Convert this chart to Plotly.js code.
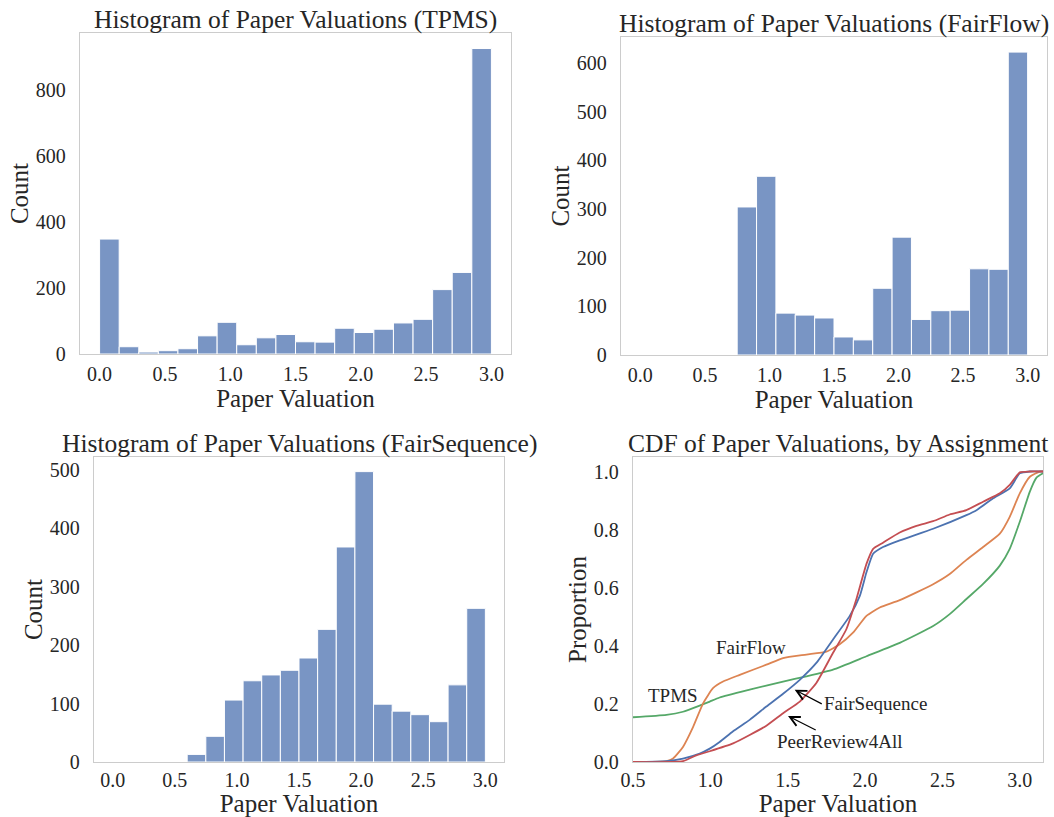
<!DOCTYPE html>
<html>
<head>
<meta charset="utf-8">
<script src="https://cdn.plot.ly/plotly-3.0.1.min.js"></script>
<style>html,body{margin:0;padding:0;background:#fff;}#chart{width:1054px;height:817px;}</style>
</head>
<body>
<div id="chart"></div>
<script>
// ---- Histogram data (bin centres, bin width 0.15) ----
const tpmsBins = [0.075,0.225,0.375,0.525,0.675,0.825,0.975,1.125,1.275,1.425,1.575,1.725,1.875,2.025,2.175,2.325,2.475,2.625,2.775,2.925];
const tpmsCounts = [348,22,6,10,16,55,96,28,49,59,37,36,78,65,75,94,105,195,247,925];

const fairFlowBins = [0.825,0.975,1.125,1.275,1.425,1.575,1.725,1.875,2.025,2.175,2.325,2.475,2.625,2.775,2.925];
const fairFlowCounts = [304,367,86,82,76,37,31,137,242,73,91,92,177,176,622];

const fairSeqBins = [0.675,0.825,0.975,1.125,1.275,1.425,1.575,1.725,1.875,2.025,2.175,2.325,2.475,2.625,2.775,2.925];
const fairSeqCounts = [13,44,106,139,149,157,178,227,368,497,99,87,81,69,132,263];

const binWidth = 0.15;

// ---- CDF data ----
const cdfTpmsX = [0.5,0.716,0.823,0.931,0.996,1.06,1.254,1.47,1.621,1.793,2.009,2.224,2.44,2.547,2.655,2.763,2.871,2.935,3.0,3.065,3.108,3.15];
const cdfTpmsY = [0.154,0.162,0.173,0.194,0.208,0.222,0.249,0.277,0.295,0.318,0.364,0.41,0.468,0.509,0.561,0.613,0.676,0.734,0.827,0.931,0.979,0.994];

const cdfFairFlowX = [0.5,0.716,0.759,0.823,0.888,0.953,1.017,1.082,1.19,1.362,1.47,1.621,1.75,1.836,1.922,2.009,2.095,2.224,2.44,2.547,2.655,2.763,2.871,2.935,3.0,3.065,3.129,3.15];
const cdfFairFlowY = [0,0.003,0.012,0.052,0.12,0.202,0.254,0.277,0.3,0.335,0.358,0.37,0.38,0.405,0.445,0.503,0.532,0.557,0.612,0.647,0.696,0.74,0.786,0.844,0.925,0.982,1.0,1.0];

const cdfFairSeqX = [0.5,0.716,0.823,0.931,0.996,1.06,1.147,1.254,1.362,1.47,1.578,1.685,1.793,1.901,1.966,2.009,2.052,2.116,2.224,2.44,2.655,2.72,2.828,2.935,3.0,3.065,3.15];
const cdfFairSeqY = [0,0.003,0.012,0.029,0.046,0.069,0.106,0.145,0.191,0.235,0.283,0.341,0.422,0.503,0.572,0.653,0.717,0.74,0.763,0.803,0.85,0.867,0.908,0.942,0.994,1.0,1.0];

const cdfPR4AX = [0.5,0.823,0.909,0.996,1.147,1.254,1.362,1.47,1.578,1.685,1.793,1.879,1.944,2.009,2.052,2.116,2.224,2.332,2.44,2.547,2.655,2.763,2.871,2.935,3.0,3.065,3.15];
const cdfPR4AY = [0,0.003,0.023,0.037,0.064,0.093,0.125,0.168,0.208,0.272,0.376,0.457,0.561,0.682,0.734,0.755,0.79,0.813,0.829,0.852,0.867,0.896,0.925,0.954,0.997,1.0,1.0];

const histTitles = ['Histogram of Paper Valuations (TPMS)','Histogram of Paper Valuations (FairFlow)','Histogram of Paper Valuations (FairSequence)'];
const cdfTitle = 'CDF of Paper Valuations, by Assignment';

const barColor = 'rgba(76,114,176,0.75)';
const txt = '#262626';
const frame = '#cccccc';
const FONT = 'Liberation Serif, Times New Roman, serif';

function bar(x, y, xa, ya) {
  return {type:'bar', x:x, y:y, width:binWidth, xaxis:xa, yaxis:ya,
    marker:{color:barColor, line:{color:'#ffffff', width:1}}, hoverinfo:'x+y'};
}
function line(x, y, c) {
  return {type:'scatter', mode:'lines', x:x, y:y, xaxis:'x4', yaxis:'y4',
    line:{color:c, width:1.8, shape:'spline', smoothing:0.5}};
}

const data = [
  bar(tpmsBins, tpmsCounts, 'x', 'y'),
  bar(fairFlowBins, fairFlowCounts, 'x2', 'y2'),
  bar(fairSeqBins, fairSeqCounts, 'x3', 'y3'),
  line(cdfTpmsX, cdfTpmsY, '#55A868'),
  line(cdfFairFlowX, cdfFairFlowY, '#DD8452'),
  line(cdfFairSeqX, cdfFairSeqY, '#4C72B0'),
  line(cdfPR4AX, cdfPR4AY, '#C44E52')
];

const W = 1054, H = 817;
function xd(a,b){return [a/W, b/W];}
function yd(top,bottom){return [1-bottom/H, 1-top/H];}

function ax(extra) {
  return Object.assign({
    showgrid:false, zeroline:false, showline:true, mirror:true,
    linecolor:frame, linewidth:1.25,
    ticks:'outside', tickcolor:'rgba(0,0,0,0)', ticklen:9,
    tickfont:{family:FONT, size:20, color:txt},
    fixedrange:true
  }, extra);
}
function xtitle(t){return {text:t, font:{family:FONT, size:25, color:txt}, standoff:0};}
function ytitle(t){return {text:t, font:{family:FONT, size:25, color:txt}, standoff:0};}

const histTicks = [0,0.5,1,1.5,2,2.5,3];
const histTickText = ['0.0','0.5','1.0','1.5','2.0','2.5','3.0'];

const P1 = {x:xd(80,511), y:yd(33,354)};
const P2 = {x:xd(621,1047), y:yd(37,355)};
const P3 = {x:xd(94,504), y:yd(457,762)};
const P4 = {x:xd(633,1043), y:yd(457,762)};

const layout = {
  width:W, height:H, margin:{l:0,r:0,t:0,b:0},
  paper_bgcolor:'#ffffff', plot_bgcolor:'#ffffff', showlegend:false,
  font:{family:FONT, color:txt},
  xaxis: ax({domain:P1.x, anchor:'y', range:[-0.15,3.15], tickvals:histTicks, ticktext:histTickText, ticklen:2, title:xtitle('Paper Valuation')}),
  yaxis: ax({domain:P1.y, anchor:'x', range:[0,972], tickvals:[0,200,400,600,800], title:ytitle('Count')}),
  xaxis2: ax({domain:P2.x, anchor:'y2', range:[-0.15,3.15], tickvals:histTicks, ticktext:histTickText, ticklen:2, title:xtitle('Paper Valuation')}),
  yaxis2: ax({domain:P2.y, anchor:'x2', range:[0,653], tickvals:[0,100,200,300,400,500,600], title:ytitle('Count')}),
  xaxis3: ax({domain:P3.x, anchor:'y3', range:[-0.15,3.15], tickvals:histTicks, ticktext:histTickText, ticklen:0, title:xtitle('Paper Valuation')}),
  yaxis3: ax({domain:P3.y, anchor:'x3', range:[0,522], tickvals:[0,100,200,300,400,500], title:ytitle('Count')}),
  xaxis4: ax({domain:P4.x, anchor:'y4', range:[0.5,3.15], tickvals:[0.5,1,1.5,2,2.5,3], ticktext:['0.5','1.0','1.5','2.0','2.5','3.0'], ticklen:0, title:xtitle('Paper Valuation')}),
  yaxis4: ax({domain:P4.y, anchor:'x4', range:[0,1.05], tickvals:[0,0.2,0.4,0.6,0.8,1.0], ticktext:['0.0','0.2','0.4','0.6','0.8','1.0'], title:ytitle('Proportion')}),
  annotations: []
};

const panels = [P1,P2,P3,P4];
const titles = histTitles.concat([cdfTitle]);
panels.forEach((p,i)=>{
  layout.annotations.push({xref:'paper', yref:'paper', x:(p.x[0]+p.x[1])/2, y:p.y[1], xanchor:'center', yanchor:'bottom',
    yshift:-3, text:titles[i], showarrow:false, font:{family:FONT, size:25.5, color:txt}});
});

const lab = {family:FONT, size:19, color:txt};
layout.annotations.push(
  {xref:'x4', yref:'y4', x:1.265, y:0.393, text:'FairFlow', showarrow:false, font:lab},
  {xref:'x4', yref:'y4', x:0.759, y:0.228, text:'TPMS', showarrow:false, font:lab},
  {xref:'x4', yref:'y4', axref:'x4', ayref:'y4', x:1.545, y:0.249, ax:1.72, ay:0.2, xanchor:'left', yanchor:'middle',
    text:'FairSequence', showarrow:true, arrowhead:5, arrowsize:1.6, arrowwidth:1.2, arrowcolor:'#000', standoff:0, font:lab},
  {xref:'x4', yref:'y4', axref:'x4', ayref:'y4', x:1.502, y:0.158, ax:1.836, ay:0.069, xanchor:'center', yanchor:'middle',
    text:'PeerReview4All', showarrow:true, arrowhead:5, arrowsize:1.6, arrowwidth:1.2, arrowcolor:'#000', standoff:0, font:lab}
);

Plotly.newPlot('chart', data, layout, {displayModeBar:false, staticPlot:true});
</script>
</body>
</html>
